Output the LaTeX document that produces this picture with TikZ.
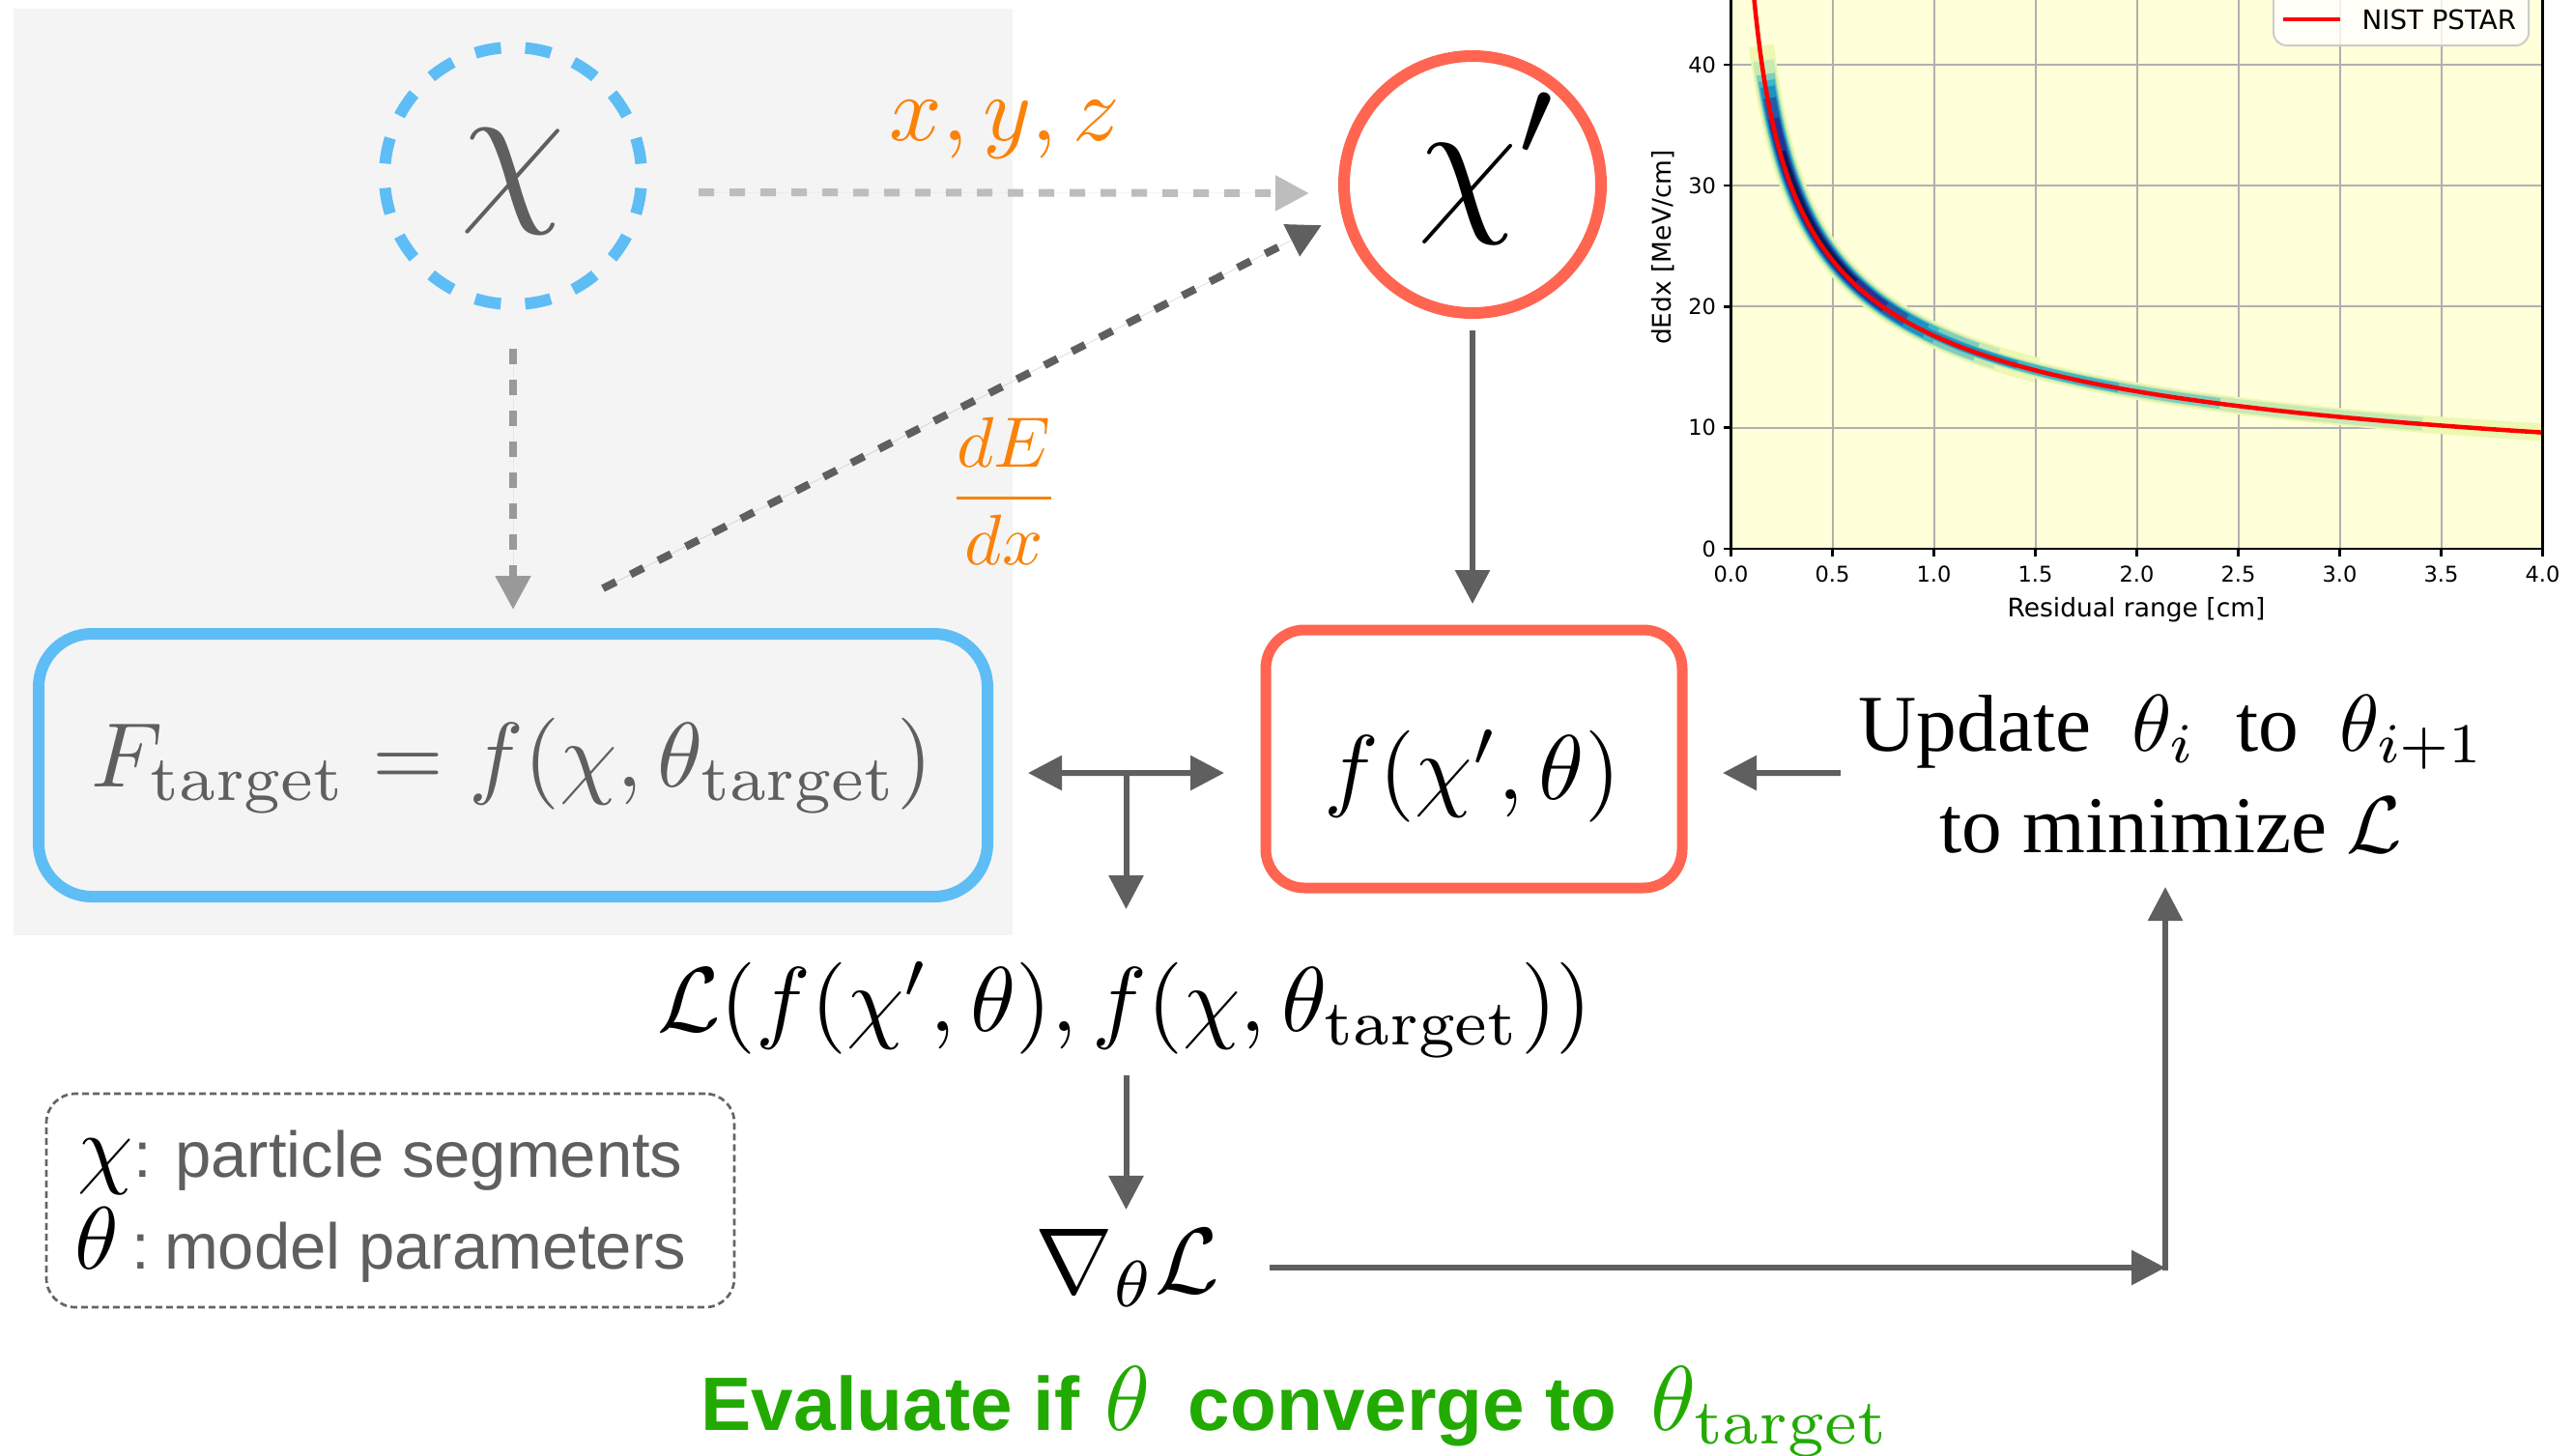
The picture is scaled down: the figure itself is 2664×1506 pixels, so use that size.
\RequirePackage{fix-cm}
\documentclass[tikz,border=0pt]{standalone}
\usepackage{fontspec}
\usepackage{graphicx}
\usetikzlibrary{arrows.meta,calc}
\newfontfamily\tnr{Liberation Serif}
\newfontfamily\arial{Liberation Sans}
\newfontfamily\djv{DejaVu Sans}
\newcommand\setfs[1]{\fontsize{#1}{#1}\selectfont}
% math typeset at 10pt and scaled up (keeps 7pt-design subscripts)
\newcommand\scm[2]{\scalebox{#1}{\setfs{10}$#2$}}
\definecolor{dgray}{RGB}{95,95,95}
\definecolor{lgray}{RGB}{189,189,189}
\definecolor{mgray}{RGB}{153,153,153}
\definecolor{panel}{RGB}{244,244,244}
\definecolor{cblue}{RGB}{94,189,245}
\definecolor{cred}{RGB}{255,101,80}
\definecolor{corange}{RGB}{250,130,10}
\definecolor{cgreen}{RGB}{34,170,0}
\definecolor{lgd}{RGB}{100,100,100}
\definecolor{ylw}{RGB}{255,255,217}
\definecolor{gridc}{RGB}{176,176,176}
\definecolor{legc}{RGB}{204,204,204}
\definecolor{ca}{RGB}{237,248,177}
\definecolor{cb}{RGB}{199,233,180}
\definecolor{cc}{RGB}{127,205,187}
\definecolor{cd}{RGB}{65,182,196}
\definecolor{ce}{RGB}{29,145,192}
\definecolor{cf}{RGB}{34,94,168}
\definecolor{cg}{RGB}{37,52,148}
\definecolor{ch}{RGB}{8,29,88}
\definecolor{pred}{RGB}{255,0,0}
\tikzset{
  tip/.style={-{Triangle[length=10.5pt,width=10.5pt]}},
  conn/.style={draw=dgray, line width=1.8pt, tip},
  conntwo/.style={draw=dgray, line width=1.8pt, {Triangle[length=10.5pt,width=10.5pt]}-{Triangle[length=10.5pt,width=10.5pt]}},
  dconn/.style={line width=2.4pt, dash pattern=on 4.8pt off 4.8pt, tip},
  txt/.style={inner sep=0pt, outer sep=0pt, anchor=base},
  ptxt/.style={inner sep=0pt, outer sep=0pt, font=\djv\setfs{6.75}},
}
\newcommand\bandlayer[4]{%
  \draw[#1, line width=#2] plot[domain=#3:#4, samples=50, smooth]
    ({1791.5+210*(exp(\x)+0.01)},{568-220.5*exp(-0.437*\x)});}
\begin{document}
\begin{tikzpicture}[x=0.3pt,y=-0.3pt]
\useasboundingbox (0,0) rectangle (2664,1506);
\clip (0,0) rectangle (2664,1506);
\fill[white] (0,0) rectangle (2664,1506);
\fill[panel] (14,9) rectangle (1048,968);

% ---------- main nodes ----------
\node[circle, draw=cblue, line width=3.6pt, dash pattern=on 8.1pt off 7.57pt, dash phase=11.9pt,
      minimum size=79.8pt, inner sep=0pt] (chi) at (531,182) {};
\node[txt, text=dgray] (chitxt) at (531,208) {\scm{5.2}{\chi}};
\node[circle, draw=cred, line width=3.6pt, minimum size=79.8pt, inner sep=0pt] (chip) at (1524,191) {};
\node[txt] (chiptxt) at (1542,220) {\scm{4.95}{\chi'}};

\node[draw=cblue, line width=3.6pt, rounded corners=16.5pt, minimum width=294.6pt,
      minimum height=81.6pt, inner sep=0pt] (Ft) at (531,792) {};
\node[txt, text=dgray] (Fttxt) at (530,814)
      {\scm{2.85}{F_{\mathrm{target}}=f(\chi,\theta_{\mathrm{target}})}};
\node[draw=cred, line width=3.3pt, rounded corners=12pt, minimum width=129.3pt,
      minimum height=80.1pt, inner sep=0pt] (fb) at (1525.5,785.5) {};
\node[txt] (fbtxt) at (1524,827) {\scm{2.85}{f(\chi',\theta)}};
\node[txt] (loss) at (1164,1067)
      {\scm{2.85}{\mathcal{L}(f(\chi',\theta),f(\chi,\theta_{\mathrm{target}}))}};
\node[txt] (grad) at (1167,1338) {\scm{2.9}{\nabla_{\theta}\mathcal{L}}};
\node[txt] (upd1) at (2248,777)
      {\scalebox{2.5}{\setfs{10}\tnr Update\enspace$\theta_i$\enspace to\enspace$\theta_{i+1}$}};
\node[txt] (upd2) at (2247,882) {\scalebox{2.5}{\setfs{10}\tnr to minimize $\mathcal{L}$}};
\node[txt, text=corange] (xyz) at (1040,145) {\scm{2.87}{x,y,z}};
\node[txt, text=corange] (dedx) at (1039,534) {\scm{2.22}{\displaystyle\frac{dE}{dx}}};

% legend box
\node[draw=lgd, line width=0.8pt, dash pattern=on 2.1pt off 1.2pt, rounded corners=9pt,
      minimum width=213.6pt, minimum height=66.3pt, inner sep=0pt] (leg) at (404,1242.5) {};
\node[anchor=base west, inner sep=0pt, text=dgray, font=\setfs{20.1}\arial] (leg1) at (80,1218)
      {{\color{black}\scm{2.75}{\chi}}: particle segments};
\node[anchor=base west, inner sep=0pt, text=dgray, font=\setfs{20.1}\arial] (leg2) at (77,1313)
      {{\color{black}\scm{2.75}{\theta}}\hspace{4pt}:\hspace{4.5pt}model parameters};

\node[anchor=base west, inner sep=0pt, text=cgreen, font=\setfs{23.5}\arial\bfseries] (eval) at (725,1480)
      {Evaluate if\hspace{7.8pt}\scm{2.85}{\theta}\hspace{11.7pt}converge to\hspace{10.5pt}\scm{2.85}{\theta_{\mathrm{target}}}};

% ---------- connectors ----------
\draw[dconn, draw=lgray, fill=lgray] ($(chi.east)+(53,17)$) -- ($(chip.west)+(-30,9)$);
\draw[dconn, draw=mgray, fill=mgray] ($(chi.south)+(0,40)$) -- ($(Ft.north)+(0,-19)$);
\draw[dconn, draw=dgray, fill=dgray, dash pattern=on 4.5pt off 5.1pt] ($(Ft.north)+(93,-41)$) -- ($(chip)+(-156,42)$);
\draw[conn, fill=dgray] ($(chip.south)+(0,12)$) -- ($(fb.north)+(-1.5,-21.5)$);

\coordinate (dl) at ($(Ft.east)+(36,8)$);
\coordinate (dr) at ($(fb.west)+(-37.5,14.5)$);
\coordinate (tj) at ($(dl)!0.5!(dr)$);
\draw[conntwo, fill=dgray] (dl) -- (dr);
\coordinate (lossTop) at (tj |- 0,941);
\draw[conn, fill=dgray] (tj) -- (lossTop);
\coordinate (la) at ($(loss.south)+(0,18)$);
\coordinate (lb) at ($(grad.north)+(0,-20)$);
\draw[conn, fill=dgray] (tj |- la) -- (tj |- lb);

\draw[conn, fill=dgray] ($(upd1.base west)+(-19,23)$) -- ($(fb.east)+(36.5,14.5)$);

\coordinate (corner) at (2241,1312);
\draw[conn, fill=dgray] ($(grad.base east)+(51,-26)$) -- (corner);
\coordinate (ut) at ($(upd2.base)+(0,36)$);
\draw[conn, fill=dgray] ($(corner)+(0,3)$) -- (corner |- ut);

% ---------- plot ----------
\begin{scope}
  \clip (1791.5,0) rectangle (2631.5,568);
  \fill[ylw] (1791.5,0) rectangle (2631.5,568);
  \foreach \gx in {0.5,1,...,3.5}
    \draw[gridc, line width=0.6pt] ({1791.5+210*\gx},0) -- ({1791.5+210*\gx},568);
  \foreach \gy in {10,20,30,40}
    \draw[gridc, line width=0.6pt] (1791.5,{568-12.53*\gy}) -- (2631.5,{568-12.53*\gy});
  \bandlayer{ca}{7.8pt}{-1.9661}{0.4055}
  \bandlayer{ca}{5.4pt}{0.4055}{1.4351}
  \bandlayer{cb}{6.6pt}{-1.8971}{0.2624}
  \bandlayer{cb}{4.2pt}{0.2624}{1.2238}
  \bandlayer{cc}{5.7pt}{-1.8326}{0.1823}
  \bandlayer{cc}{3.3pt}{0.1823}{0.8755}
  \bandlayer{cd}{5.1pt}{-1.8018}{0}
  \bandlayer{cd}{3.0pt}{0}{0.6419}
  \bandlayer{ce}{4.5pt}{-1.7720}{-0.0513}
  \bandlayer{ce}{2.4pt}{-0.0513}{0.3365}
  \bandlayer{cf}{3.9pt}{-1.7148}{-0.1625}
  \bandlayer{cg}{3.3pt}{-1.6094}{-0.2877}
  \bandlayer{ch}{2.4pt}{-1.4271}{-0.5108}
  \draw[pred, line width=1.35pt] plot[domain=-2.31:1.44, samples=90, smooth]
    ({1791.5+210*exp(\x)},{568-220.5*exp(-0.437*\x)});
\end{scope}
\draw[black, line width=0.75pt] (1791.5,0) -- (1791.5,568) -- (2631.5,568) -- (2631.5,0);
\foreach \v/\t [count=\i] in {0/0.0,0.5/0.5,1/1.0,1.5/1.5,2/2.0,2.5/2.5,3/3.0,3.5/3.5,4/4.0}{
  \draw[black, line width=0.75pt] ({1791.5+210*\v},568) -- ({1791.5+210*\v},576);
  \node[ptxt, anchor=base] (xt\i) at ({1791.5+210*\v},602) {\t};
}
\foreach \v [count=\i] in {0,10,20,30,40}{
  \draw[black, line width=0.75pt] (1791.5,{568-12.53*\v}) -- (1783.5,{568-12.53*\v});
  \node[ptxt, anchor=east] (yt\i) at (1776,{568-12.53*\v}) {\v};
}
\node[inner sep=0pt, anchor=base, font=\djv\setfs{7.95}] (xlab) at (2211,638) {Residual range [cm]};
\node[inner sep=0pt, rotate=90, font=\djv\setfs{7.95}] (ylab) at (1721,256) {dEdx [MeV/cm]};
\draw[fill=white, fill opacity=0.8, draw=legc, line width=0.6pt, rounded corners=4pt] (2353,-30) rectangle (2617,47);
\draw[pred, line width=1.2pt] (2363,20) -- (2422,20);
\node[inner sep=0pt, anchor=west, font=\djv\setfs{8.3}] (pleg) at (2444,20) {NIST PSTAR};
\end{tikzpicture}
\end{document}
